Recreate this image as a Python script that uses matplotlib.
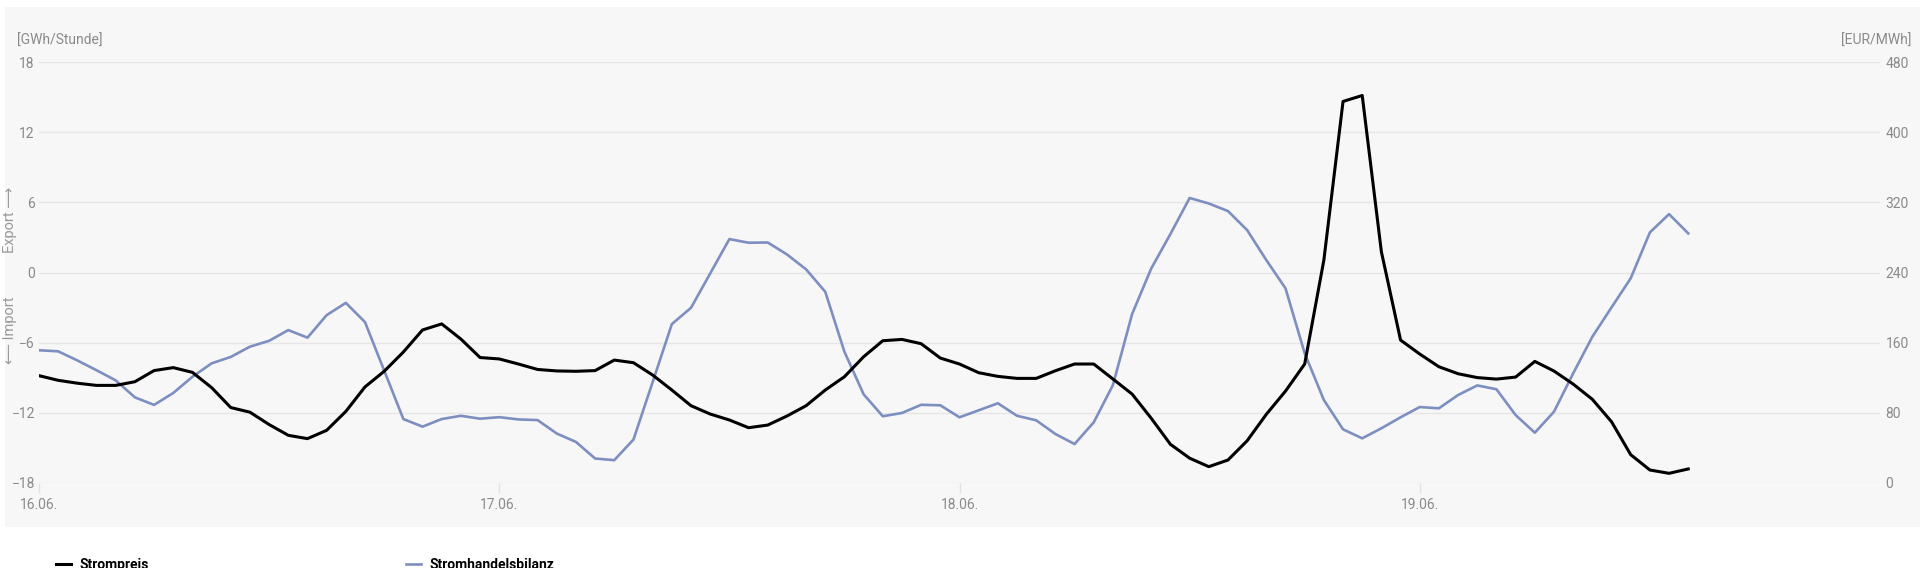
import matplotlib
matplotlib.use("Agg")
import matplotlib.pyplot as plt
from matplotlib.patches import Rectangle

# Stundenwerte ab 16.06. 00:00
hours = list(range(87))

# Strompreis [EUR/MWh]
strompreis = [
    122.2, 116.9, 113.6, 111.1, 111.1, 115.3, 128.0, 131.4, 126.0, 108.6,
    85.8, 80.5, 66.4, 54.1, 50.3, 59.8, 81.4, 109.4, 127.2, 149.2,
    174.4, 181.3, 164.0, 142.9, 141.3, 135.5, 129.3, 127.6, 127.2, 128.0,
    140.0, 137.0, 122.9, 105.8, 87.9, 78.4, 71.6, 62.8, 65.8, 76.1,
    87.9, 105.8, 121.0, 143.8, 162.1, 163.6, 158.7, 142.3, 135.5, 125.6,
    121.4, 119.1, 119.1, 127.8, 135.5, 135.5, 118.4, 101.2, 73.5, 43.8,
    28.0, 18.3, 25.9, 47.9, 78.1, 104.6, 135.5, 254.1, 435.3, 442.1,
    263.6, 162.8, 146.9, 132.4, 124.4, 120.0, 118.3, 120.6, 138.5, 127.5,
    112.6, 95.2, 69.6, 32.0, 14.5, 10.7, 15.7,
]

# Stromhandelsbilanz [GWh/Stunde], Export positiv
bilanz = [
    -6.66, -6.75, -7.53, -8.37, -9.24, -10.69, -11.34, -10.32, -8.93, -7.78,
    -7.23, -6.35, -5.85, -4.93, -5.58, -3.65, -2.6, -4.25, -8.4, -12.55,
    -13.2, -12.55, -12.27, -12.52, -12.39, -12.58, -12.64, -13.79, -14.51, -15.93,
    -16.07, -14.3, -9.38, -4.42, -3.02, -0.08, 2.86, 2.55, 2.57, 1.55,
    0.27, -1.65, -6.79, -10.43, -12.31, -12.03, -11.33, -11.37, -12.4, -11.8,
    -11.2, -12.27, -12.66, -13.83, -14.69, -12.83, -9.64, -3.56, 0.35, 3.3,
    6.38, 5.91, 5.26, 3.63, 1.06, -1.36, -6.92, -10.92, -13.43, -14.2,
    -13.34, -12.4, -11.52, -11.63, -10.49, -9.67, -10.0, -12.21, -13.72, -11.92,
    -8.64, -5.5, -2.99, -0.5, 3.43, 5.0, 3.35,
]

day_ticks = [0, 24, 48, 72]
day_labels = ["16.06.", "17.06.", "18.06.", "19.06."]
left_ticks = [-18, -12, -6, 0, 6, 12, 18]
right_ticks = [0, 80, 160, 240, 320, 400, 480]

FONT = ["Roboto", "DejaVu Sans"]
GREY = "#8a8a8a"
BLUE = "#7d8fc0"

plt.rcParams["font.family"] = FONT

fig = plt.figure(figsize=(19.2, 5.68), dpi=100, facecolor="white")

# hellgrauer Hintergrund des Diagramms
fig.patches.append(Rectangle((5 / 1920, 41 / 568), 1 - 5 / 1920, 520 / 568,
                             transform=fig.transFigure, facecolor="#f7f7f7",
                             edgecolor="none", zorder=-5))

ax = fig.add_axes([39 / 1920, 85.3 / 568, (1880 - 39) / 1920, 420.4 / 568])
ax.set_facecolor("none")
ax2 = ax.twinx()

l_bilanz, = ax.plot(hours, bilanz, color=BLUE, lw=1.9, zorder=3)
l_preis, = ax2.plot(hours, strompreis, color="black", lw=2.2, zorder=3)

ax.set_xlim(0, 96)
ax.set_ylim(-18, 18)
ax2.set_ylim(0, 480)

ax.set_yticks(left_ticks)
ax2.set_yticks(right_ticks)
ax.set_xticks(day_ticks)
ax.set_xticklabels(day_labels)

ax.grid(axis="y", color="#e6e6e6", lw=1.0)
ax.set_axisbelow(True)

for a in (ax, ax2):
    for s in a.spines.values():
        s.set_visible(False)

ax.tick_params(axis="y", length=0, pad=3, labelsize=10, labelcolor=GREY)
ax2.tick_params(axis="y", length=0, pad=4, labelsize=10, labelcolor=GREY)
ax.tick_params(axis="x", length=7, width=1, color="#e2e2e2", pad=4,
               labelsize=10, labelcolor=GREY)

fig.text(17 / 1920, 1 - 40.7 / 568, "[GWh/Stunde]", ha="left", va="center",
         fontsize=10, color=GREY)
fig.text(1911 / 1920, 1 - 40.7 / 568, "[EUR/MWh]", ha="right", va="center",
         fontsize=10, color=GREY)
fig.text(10 / 1920, 1 - 220 / 568, "Export \u27f6", rotation=90, ha="center",
         va="center", fontsize=10.5, color="#9a9a9a", family=FONT)
fig.text(10 / 1920, 1 - 330 / 568, "\u27f5 Import", rotation=90, ha="center",
         va="center", fontsize=10.5, color="#9a9a9a", family=FONT)

fig.legend([l_preis, l_bilanz], ["Strompreis", "Stromhandelsbilanz"],
           loc="upper left", bbox_to_anchor=(56 / 1920, 1 - 558 / 568),
           ncol=2, frameon=False, borderpad=0, borderaxespad=0,
           handlelength=1.1, handletextpad=0.6, columnspacing=18.5,
           prop={"size": 10, "weight": "bold"})

fig.savefig("out.png", dpi=100, facecolor="white")
